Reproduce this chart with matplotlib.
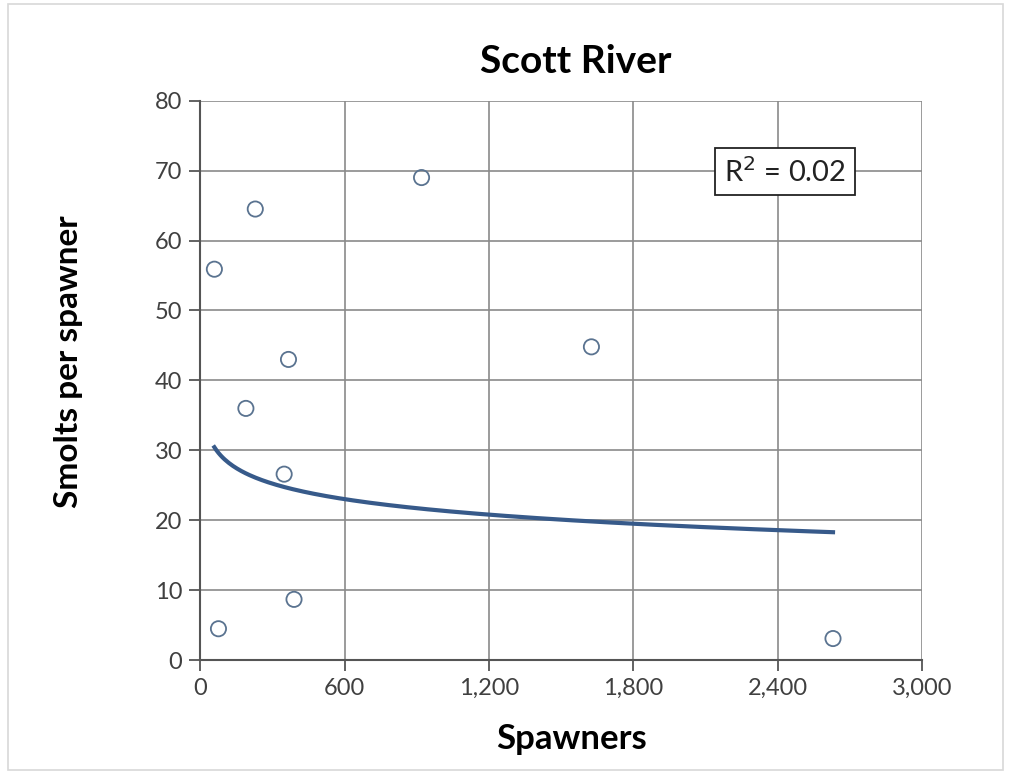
import numpy as np
import matplotlib.pyplot as plt
from matplotlib.patches import Rectangle

# spawners vs smolts per spawner
spawners = [59, 229, 920, 367, 190, 349, 390, 76, 1626, 2630]
smolts_per_spawner = [55.9, 64.5, 69.0, 43.0, 36.0, 26.6, 8.7, 4.5, 44.8, 3.1]
x_ticks = [0, 600, 1200, 1800, 2400, 3000]
y_ticks = [0, 10, 20, 30, 40, 50, 60, 70, 80]

# log trendline as shown on the chart: y = a*ln(x) + b
trend_a = -3.2
trend_b = 43.5

plt.rcParams['font.family'] = ['Lato', 'DejaVu Sans']

x = np.array(spawners)
y = np.array(smolts_per_spawner)

xf = np.linspace(x.min(), x.max(), 300)
yf = trend_a * np.log(xf) + trend_b

fig = plt.figure(figsize=(10.11, 7.74), dpi=100)
ax = fig.add_axes([0.198, 0.147, 0.714, 0.723])

ax.plot(xf, yf, color='#375a8a', lw=3, zorder=3)
ax.scatter(x, y, s=120, facecolors='none', edgecolors='#5a7390', linewidths=1.3, zorder=4)

ax.set_xlim(0, 3000)
ax.set_ylim(0, 80)
ax.set_xticks(x_ticks)
ax.set_xticklabels(['{:,}'.format(v) for v in x_ticks])
ax.set_yticks(y_ticks)
ax.grid(True, color='#8a8a8a', lw=1.2)
ax.set_axisbelow(True)
for s in ['top', 'right']:
    ax.spines[s].set_visible(False)
for s in ['left', 'bottom']:
    ax.spines[s].set_color('#555555')
    ax.spines[s].set_linewidth(1.5)
ax.tick_params(direction='out', length=8, width=1.3, color='#555555',
               labelsize=17, labelcolor='#404040', pad=5)

ax.set_title('Scott River', fontsize=28, fontweight='bold', pad=20, x=0.52)
ax.set_xlabel('Spawners', fontsize=25, fontweight='bold')
ax.set_ylabel('Smolts per spawner', fontsize=24, fontweight='bold')
ax.xaxis.set_label_coords(0.515, -0.113)
ax.yaxis.set_label_coords(-0.163, 0.533)

ax.text(0.81, 0.873, 'R$^2$ = 0.02', transform=ax.transAxes, fontsize=21,
        ha='center', va='center', color='#222222',
        bbox=dict(boxstyle='square,pad=0.3', fc='white', ec='#222222', lw=1.3))

fig.patches.append(Rectangle((0.008, 0.005), 0.984, 0.99, transform=fig.transFigure,
                             fill=False, ec='#d8d8d8', lw=1.2))

fig.savefig('out.png', dpi=100)
